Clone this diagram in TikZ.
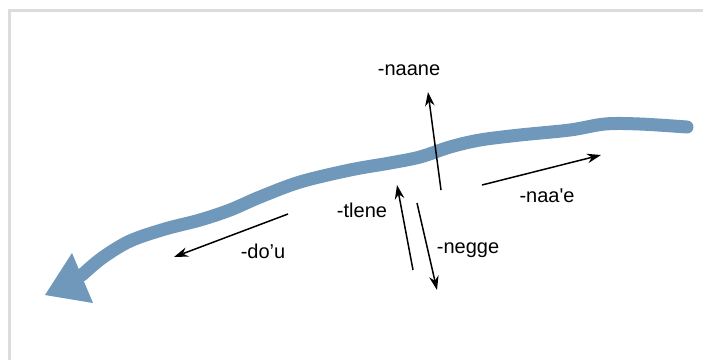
\documentclass[tikz,border=0pt]{standalone}
\usepackage{fontspec}
\setmainfont{Liberation Sans}
\usetikzlibrary{arrows.meta}
\definecolor{river}{RGB}{112,152,186}
\definecolor{frame}{RGB}{220,220,220}
\tikzset{
  lbl/.style={font=\fontsize{20bp}{24bp}\selectfont, inner sep=0pt},
  dirarrow/.style={line width=1.5bp, -{Stealth[length=14bp,width=9.5bp]}},
  stream/.style={river, line width=13bp, line cap=round, line join=round}
}
\begin{document}
\begin{tikzpicture}[x=1bp,y=-1bp]
\useasboundingbox (0,0) rectangle (703,360);
\fill[white] (0,0) rectangle (703,360);
% frame edges
\draw[frame, line width=3bp] (9,360) -- (9,10) -- (703,10);
% the stream, flowing to the lower left
\draw[stream] plot[smooth, tension=0.55] coordinates {
  (687,127) (640,124) (605,124) (570,130) (520,135) (480,140) (450,147)
  (420,157) (390,163) (350,170) (300,182) (260,197) (230,210) (200,220)
  (165,229) (130,241) (102,258) (82,275)};
\fill[river] (45,295) -- (72,253) -- (93,303) -- cycle;
% direction terms
\coordinate (naaneT) at (441,190); \coordinate (naaneH) at (428,92);
\coordinate (tleneT) at (413,270); \coordinate (tleneH) at (397,185);
\coordinate (neggeT) at (417,203); \coordinate (neggeH) at (437,290);
\coordinate (naaeT)  at (482,185); \coordinate (naaeH)  at (601,155);
\coordinate (douT)   at (288,214); \coordinate (douH)   at (174,257);
\draw[dirarrow] (naaneT) -- (naaneH);
\draw[dirarrow] (tleneT) -- (tleneH);
\draw[dirarrow] (neggeT) -- (neggeH);
\draw[dirarrow] (naaeT) -- (naaeH);
\draw[dirarrow] (douT) -- (douH);
\node[lbl] (naane) at (409,70) {-naane};
\node[lbl] (tlene) at (362,210) {-tlene};
\node[lbl] (negge) at (468,250) {-negge};
\node[lbl] (naae) at (547,196) {-naa\textquotesingle e};
\node[lbl] (dou) at (263,251) {-do’u};
\end{tikzpicture}
\end{document}
